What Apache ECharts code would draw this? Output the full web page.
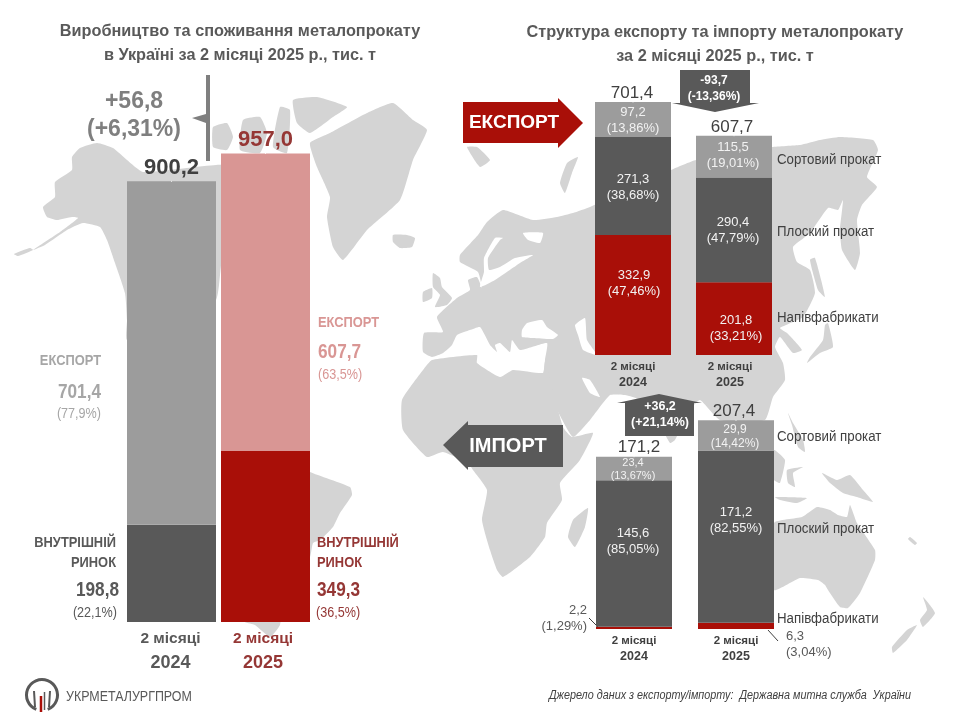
<!DOCTYPE html>
<html><head><meta charset="utf-8">
<style>html,body{margin:0;padding:0;background:#fff}#c{width:960px;height:720px}</style>
<script src="https://cdn.jsdelivr.net/npm/echarts@6/dist/echarts.min.js"></script>
</head><body><div id="c"></div>
<script>
// ---------- data ----------
const years = ['2024', '2025'];
const periodLabel = '2 місяці';
const domesticValues = [198.8, 349.3];
const domesticShares = ['22,1', '36,5'];
const exportValues = [701.4, 607.7];
const exportShares = ['77,9', '63,5'];
const consumptionTotals = [900.2, 957.0];
const exportSemi = [332.9, 201.8];
const exportSemiPct = ['47,46', '33,21'];
const exportFlat = [271.3, 290.4];
const exportFlatPct = ['38,68', '47,79'];
const exportLong = [97.2, 115.5];
const exportLongPct = ['13,86', '19,01'];
const exportTotals = [701.4, 607.7];
const importSemi = [2.2, 6.3];
const importSemiPct = ['1,29', '3,04'];
const importFlat = [145.6, 171.2];
const importFlatPct = ['85,05', '82,55'];
const importLong = [23.4, 29.9];
const importLongPct = ['13,67', '14,42'];
const importTotals = [171.2, 207.4];
const productNames = ['Сортовий прокат', 'Плоский прокат', 'Напівфабрикати'];
const deltaTotal = ['+56,8', '(+6,31%)'];
const deltaExport = ['-93,7', '(-13,36%)'];
const deltaImport = ['+36,2', '(+21,14%)'];

// ---------- decorative background map (screen outline, not data) ----------
const land = [
 [[72,157],[80,148],[97,143],[113,148],[127,160],[143,172],[216,165],[305,165],[305,230],[225,250],[216,300],[160,340],[127,340],[127,320],[125,293],[115,263],[107,240],[100,227],[83,223],[67,230],[45,245],[33,250],[60,232],[78,218],[72,217],[57,220],[47,217],[43,207],[55,197],[55,182],[72,170]],
 [[14,254],[30,248],[33,250],[18,256]],
 [[293,100],[317,97],[347,107],[333,117],[310,133],[297,123]],
 [[280,107],[290,110],[287,153],[273,147]],
 [[243,120],[260,117],[267,133],[260,153],[240,150]],
 [[213,127],[227,123],[233,137],[227,150],[213,147]],
 [[310,143],[330,133],[367,113],[393,103],[413,120],[427,130],[413,160],[400,200],[367,230],[343,260],[333,247],[327,217],[330,197],[317,167]],
 [[393,235],[407,235],[415,238],[412,247],[400,248],[393,242]],
 [[230,430],[310,472],[350,487],[352,495],[340,513],[333,527],[320,540],[313,543],[310,557],[283,600],[280,625],[270,637],[255,625],[245,622],[230,600]],
 [[433,273],[440,278],[442,287],[452,298],[447,305],[435,307],[440,295],[433,287]],
 [[423,292],[432,288],[432,298],[423,302]],
 [[467,147],[477,147],[490,160],[480,167]],
 [[578,157],[567,163],[560,183],[565,193],[572,173]],
 // Eurasia
 [[423,352],[424,333],[443,332],[437,317],[457,298],[470,290],[468,280],[477,277],[482,288],[478,272],[460,262],[460,255],[478,235],[487,222],[503,210],[533,220],[557,217],[573,213],[590,207],[671,170],[696,160],[772,147],[800,145],[820,140],[840,137],[873,140],[878,150],[867,177],[877,187],[862,205],[857,220],[860,253],[855,270],[842,250],[840,230],[843,200],[838,210],[828,208],[810,233],[793,247],[797,262],[810,270],[815,293],[803,317],[780,328],[787,333],[802,350],[793,353],[780,337],[775,347],[783,363],[785,380],[773,397],[765,420],[720,420],[700,400],[690,410],[675,440],[670,443],[660,425],[640,400],[625,395],[610,395],[590,420],[573,437],[557,410],[543,387],[545,360],[547,343],[520,350],[512,340],[510,352],[500,343],[495,345],[497,352],[490,345],[480,327],[470,330],[457,335],[452,345],[443,353],[432,357]],
 // Africa
 [[423,370],[432,360],[477,355],[477,363],[500,377],[513,370],[543,373],[545,362],[563,427],[572,437],[593,433],[580,460],[560,483],[562,500],[547,523],[545,537],[530,557],[503,577],[497,570],[490,550],[482,520],[487,490],[473,470],[468,463],[443,452],[427,457],[403,430],[402,400]],
 [[588,508],[585,527],[575,547],[568,537],[573,520]],
 [[810,260],[815,258],[825,297],[818,290]],
 [[828,323],[833,347],[820,353],[807,363],[810,357],[823,340],[825,325]],
 [[788,413],[793,423],[803,440],[805,452],[798,447],[792,425]],
 [[774,450],[785,460],[780,483],[774,480]],
 [[787,470],[803,467],[793,473],[795,487],[788,483]],
 [[822,473],[837,480],[850,475],[863,490],[873,502],[857,497],[843,493],[830,483]],
 [[775,497],[807,498],[797,503],[780,500]],
 [[774,523],[802,517],[817,507],[830,510],[838,515],[847,517],[850,505],[857,523],[875,550],[875,560],[860,593],[848,608],[840,607],[828,590],[825,585],[818,580],[800,578],[774,590]],
 [[923,597],[935,613],[923,627],[920,620],[927,610]],
 [[917,625],[907,640],[893,653],[892,647],[907,630]],
 [[910,537],[917,543],[915,545],[908,539]]
];
const seas = [
 [[522,330],[527,323],[542,320],[547,327],[558,335],[553,339],[533,338],[522,337]],
 [[575,325],[585,318],[587,340],[597,355],[583,350],[578,335]],
 [[582,378],[590,380],[600,397],[590,393]],
 [[480,287],[495,280],[520,263],[533,255],[515,258],[500,267],[489,270],[488,258],[500,240],[503,238],[495,238],[484,258],[484,272]],
 [[523,233],[543,233],[540,243],[528,240]]
];

// ---------- layout / styling ----------
const FONT = '"Liberation Sans", Arial, sans-serif';
const C = {map:'#d4d4d4', grey:'#9c9c9c', dark:'#595959', red:'#a90f08', pink:'#d99694', ink:'#404040', wine:'#953735', soft:'#a6a6a6', mid:'#7f7f7f'};
const fmt = v => v.toFixed(1).replace('.', ',');
const txt = (text, x, y, font, fill, align, sx) => ({type:'text', x, y, scaleX:sx||1, silent:true,
  style:{text, x:0, y:0, font:font+' '+FONT, fill, align:align||'center', verticalAlign:'middle'}});
const poly = (points, fill) => ({type:'polygon', silent:true, shape:{points}, style:{fill}});
const seg = (x1,y1,x2,y2,col,w) => ({type:'line', silent:true, shape:{x1,y1,x2,y2}, style:{stroke:col, lineWidth:w||1}});

const graphics = [];

// titles
graphics.push(txt('Виробництво та споживання металопрокату', 240, 32, 'bold 16.3px', C.dark));
graphics.push(txt('в Україні за 2 місяці 2025 р., тис. т', 240, 56, 'bold 16.3px', C.dark));
graphics.push(txt('Структура експорту та імпорту металопрокату', 715, 33, 'bold 16.3px', C.dark));
graphics.push(txt('за 2 місяці 2025 р., тис. т', 715, 57, 'bold 16.3px', C.dark));

// left annotations
graphics.push({type:'rect', silent:true, shape:{x:206,y:75,width:4,height:86}, style:{fill:C.mid}});
graphics.push(poly([[192,118],[206,114],[206,123]], C.mid));
graphics.push(txt(deltaTotal[0], 134, 102, 'bold 23px', C.mid));
graphics.push(txt(deltaTotal[1], 134, 130, 'bold 23px', C.mid));

const LB = 'bold 14px', LV = 'bold 20px', LP = '14px';
graphics.push(txt('ЕКСПОРТ', 101, 361, LB, C.soft, 'right', .92));
graphics.push(txt(fmt(exportValues[0]), 101, 392, LV, C.soft, 'right', .86));
graphics.push(txt('('+exportShares[0]+'%)', 101, 414, LP, C.soft, 'right', .9));
graphics.push(txt('ВНУТРІШНІЙ', 116, 543, LB, C.dark, 'right', .92));
graphics.push(txt('РИНОК', 116, 563, LB, C.dark, 'right', .92));
graphics.push(txt(fmt(domesticValues[0]), 119, 590, LV, C.dark, 'right', .86));
graphics.push(txt('('+domesticShares[0]+'%)', 117, 613, LP, C.dark, 'right', .9));

graphics.push(txt('ЕКСПОРТ', 318, 323, LB, C.pink, 'left', .92));
graphics.push(txt(fmt(exportValues[1]), 318, 352, LV, C.pink, 'left', .86));
graphics.push(txt('('+exportShares[1]+'%)', 318, 375, LP, C.pink, 'left', .9));
graphics.push(txt('ВНУТРІШНІЙ', 317, 543, LB, C.wine, 'left', .92));
graphics.push(txt('РИНОК', 317, 563, LB, C.wine, 'left', .92));
graphics.push(txt(fmt(domesticValues[1]), 317, 590, LV, C.wine, 'left', .86));
graphics.push(txt('('+domesticShares[1]+'%)', 316, 613, LP, C.wine, 'left', .9));

// arrows
graphics.push(poly([[463,102],[558,102],[558,98],[583,123],[558,148],[558,143],[463,143]], C.red));
graphics.push(txt('ЕКСПОРТ', 514, 123, 'bold 19px', '#fff'));
graphics.push(poly([[443,445],[468,421],[468,425],[563,425],[563,467],[468,467],[468,470]], C.dark));
graphics.push(txt('ІМПОРТ', 508, 446, 'bold 20px', '#fff'));
graphics.push(poly([[680,70],[750,70],[750,103],[759,103],[715,112],[672,103],[680,103]], C.dark));
graphics.push(txt(deltaExport[0], 714, 81, 'bold 12px', '#fff'));
graphics.push(txt(deltaExport[1], 714, 97, 'bold 12px', '#fff'));
graphics.push(poly([[625,436],[694,436],[694,403],[702,403],[659,394],[617,403],[625,403]], C.dark));
graphics.push(txt(deltaImport[0], 660, 407, 'bold 12.5px', '#fff'));
graphics.push(txt(deltaImport[1], 660, 423, 'bold 12.5px', '#fff'));

// product names
[160,232,318].forEach((y,i) => graphics.push(txt(productNames[i], 777, y, '14px', C.ink, 'left', .95)));
[437,529,619].forEach((y,i) => graphics.push(txt(productNames[i], 777, y, '14px', C.ink, 'left', .95)));
graphics.push(seg(589,618,599,628,C.ink));
graphics.push(seg(768,630,778,641,C.ink));

// footer + logo
graphics.push(txt('УКРМЕТАЛУРГПРОМ', 66, 697, '15px', C.dark, 'left', .83));
graphics.push(txt('Джерело даних з експорту/імпорту:  Державна митна служба  України', 911, 696, 'italic 12px', C.ink, 'right', .9));
graphics.push({type:'arc', silent:true, shape:{cx:42,cy:695,r:15.5,startAngle:Math.PI*0.62,endAngle:Math.PI*0.38,clockwise:true},
  style:{stroke:C.dark,lineWidth:3,fill:null}});
graphics.push(seg(34,691,35,707,C.dark,2));
graphics.push(seg(50,691,49,707,C.dark,2));
graphics.push(seg(41,696,41,712,C.red,2.5));
graphics.push(seg(44.5,692,44.5,710,C.dark,1.5));

// ---------- charts ----------
const grids = [
  {left:124.5, width:188, top:132.5, height:489.5},
  {left:582.5, width:202, top:66.5,  height:288.5},
  {left:583,   width:204, top:377.5, height:251.5}
];
const yMax = [1000, 800, 250];

function catRich(sizeA, sizeB, lh, cols, pads) {
  const rich = {};
  cols.forEach((c,i) => {
    rich['a'+i] = {fontFamily:FONT, fontWeight:'bold', fontSize:sizeA, lineHeight:lh, color:c, padding:[0,pads[i],0,0]};
    rich['b'+i] = {fontFamily:FONT, fontWeight:'bold', fontSize:sizeB, lineHeight:lh, color:c, padding:[0,pads[i],0,0]};
  });
  return rich;
}
const catFmt = (v,i) => `{a${i}|${periodLabel}}\n{b${i}|${v}}`;
const hiddenAxis = {axisLine:{show:false}, axisTick:{show:false}};
const xAxis = [
  Object.assign({gridIndex:0, type:'category', data:years, axisLabel:{margin:5, formatter:catFmt, rich:catRich(15.5,18,24,[C.dark,C.wine],[2,5])}}, hiddenAxis),
  Object.assign({gridIndex:1, type:'category', data:years, axisLabel:{margin:4, formatter:catFmt, rich:catRich(11.5,12.5,16,[C.ink,C.ink],[0,8])}}, hiddenAxis),
  Object.assign({gridIndex:2, type:'category', data:years, axisLabel:{margin:4, formatter:catFmt, rich:catRich(11.5,12.5,16,[C.ink,C.ink],[0,0])}}, hiddenAxis)
];
const yAxis = yMax.map((m,i)=>({gridIndex:i, type:'value', min:0, max:m, show:false}));

function stackSeries(gi, stack, width, values, pct, color, opts) {
  opts = opts || {};
  return {type:'bar', xAxisIndex:gi, yAxisIndex:gi, stack, barWidth:width, silent:true, z:3,
    data: values.map((v,i)=>{
      const colour = Array.isArray(color) ? color[i] : color;
      const item = {value:v, itemStyle:{color:colour}};
      if (pct) {
        const shift = (opts.shift && opts.shift[i]) || [0,0];
        item.label = Object.assign({show:true, position:'inside', offset:shift,
          formatter: fmt(v)+'\n('+pct[i]+'%)', color:'#f2f2f2', fontFamily:FONT,
          fontSize:opts.size||13, lineHeight:opts.lh||16},
          (opts.extra && opts.extra[i]) || {});
      }
      return item;
    })};
}
function totalSeries(gi, values, labelCfg) {
  return {type:'line', xAxisIndex:gi, yAxisIndex:gi, data:values.map((v,i)=>({value:v,
      label:Object.assign({show:true, position:'top', distance:1, formatter:fmt(v), fontFamily:FONT}, labelCfg[i])})),
    symbolSize:1, itemStyle:{color:'transparent'}, lineStyle:{width:0, color:'transparent'}, silent:true, z:6};
}
const mapSeries = {type:'custom', coordinateSystem:'none', silent:true, z:-5, clip:false, data:[0],
  renderItem: () => ({type:'group', children:
    land.map(p => ({type:'polygon', shape:{points:p, smooth:0.15}, style:{fill:C.map}})).concat(
    seas.map(p => ({type:'polygon', shape:{points:p, smooth:0.15}, style:{fill:'#fff'}})))})};

const series = [
  mapSeries,
  stackSeries(0,'a',89,domesticValues,null,[C.dark,C.red]),
  stackSeries(0,'a',89,exportValues,null,[C.grey,C.pink]),
  totalSeries(0,consumptionTotals,[
    {fontSize:22,fontWeight:'bold',color:C.ink},{fontSize:22,fontWeight:'bold',color:C.wine}]),

  stackSeries(1,'b',76,exportSemi,exportSemiPct,C.red,{shift:[[1,-12],[2,9.5]]}),
  stackSeries(1,'b',76,exportFlat,exportFlatPct,C.dark,{shift:[[0,1.5],[-1,0.5]]}),
  stackSeries(1,'b',76,exportLong,exportLongPct,C.grey,{shift:[[0,0.5],[-1,-1.5]]}),
  totalSeries(1,exportTotals,[
    {fontSize:17,color:C.ink,offset:[-1,2]},{fontSize:17,color:C.ink,offset:[-2,2]}]),

  stackSeries(2,'c',76,importSemi,importSemiPct,C.red,{extra:[
     {color:C.dark,align:'right',offset:[-47,-9]},
     {color:C.dark,align:'left',offset:[50,18.5]}]}),
  stackSeries(2,'c',76,importFlat,importFlatPct,C.dark,{shift:[[-1,-12],[0,-16]]}),
  stackSeries(2,'c',76,importLong,importLongPct,C.grey,{shift:[[-1,0.5],[-1,1]],extra:[
     {fontSize:11,lineHeight:13},{fontSize:12,lineHeight:14}]}),
  totalSeries(2,importTotals,[
    {fontSize:17,color:C.ink,offset:[5,2]},{fontSize:17,color:C.ink,offset:[-2,2]}])
];

const chart = echarts.init(document.getElementById('c'), null, {renderer:'canvas'});
chart.setOption({animation:false, backgroundColor:'#fff', textStyle:{fontFamily:FONT},
  grid:grids, xAxis, yAxis, series, graphic:{elements:graphics}});
</script></body></html>
